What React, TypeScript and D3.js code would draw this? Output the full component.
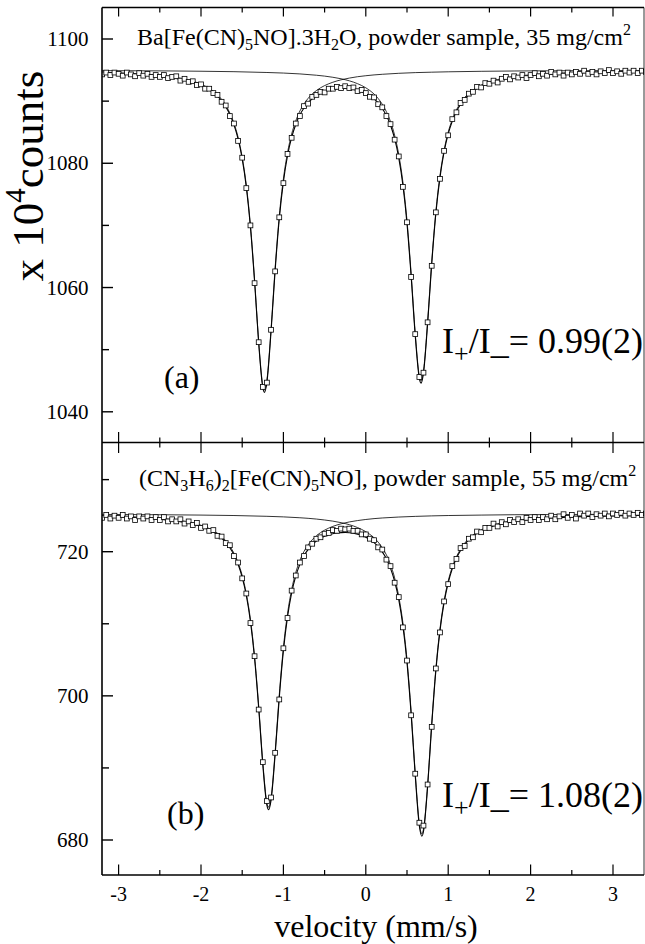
import React from 'react';
import * as d3 from 'd3';

// channel velocities (mm/s), shared by both spectra
const velocity = [
  -3.2, -3.15, -3.1, -3.05, -3, -2.95, -2.9, -2.85, -2.8, -2.75,
  -2.7, -2.65, -2.6, -2.55, -2.5, -2.45, -2.4, -2.35, -2.3, -2.25,
  -2.2, -2.15, -2.1, -2.05, -2, -1.95, -1.9, -1.85, -1.8, -1.75,
  -1.7, -1.65, -1.6, -1.55, -1.5, -1.45, -1.4, -1.35, -1.3, -1.25,
  -1.2, -1.15, -1.1, -1.05, -1, -0.95, -0.9, -0.85, -0.8, -0.75,
  -0.7, -0.65, -0.6, -0.55, -0.5, -0.45, -0.4, -0.35, -0.3, -0.25,
  -0.2, -0.15, -0.1, -0.05, 0, 0.05, 0.1, 0.15, 0.2, 0.25,
  0.3, 0.35, 0.4, 0.45, 0.5, 0.55, 0.6, 0.65, 0.7, 0.75,
  0.8, 0.85, 0.9, 0.95, 1, 1.05, 1.1, 1.15, 1.2, 1.25,
  1.3, 1.35, 1.4, 1.45, 1.5, 1.55, 1.6, 1.65, 1.7, 1.75,
  1.8, 1.85, 1.9, 1.95, 2, 2.05, 2.1, 2.15, 2.2, 2.25,
  2.3, 2.35, 2.4, 2.45, 2.5, 2.55, 2.6, 2.65, 2.7, 2.75,
  2.8, 2.85, 2.9, 2.95, 3, 3.05, 3.1, 3.15, 3.2, 3.25,
  3.3, 3.35, 3.4,
];

// (a) Ba[Fe(CN)5NO].3H2O  (x 10^4 counts)
const countsA = [
  1094.3, 1094.6, 1094.2, 1094.6, 1094.4, 1094.1, 1094.6, 1094.3, 1094.0, 1094.5,
  1094.1, 1094.4, 1093.9, 1094.2, 1093.9, 1094.2, 1093.7, 1093.9, 1094.0, 1093.3,
  1093.6, 1093.1, 1093.2, 1092.6, 1092.7, 1092.0, 1092.0, 1091.3, 1091.0, 1089.9,
  1089.3, 1087.6, 1086.4, 1083.6, 1080.9, 1076.0, 1070.0, 1060.7, 1051.2, 1044.0,
  1044.7, 1053.2, 1062.6, 1071.3, 1076.8, 1081.5, 1084.1, 1086.4, 1087.6, 1089.2,
  1089.6, 1090.7, 1091.0, 1091.5, 1091.4, 1092.0, 1092.0, 1092.3, 1092.1, 1092.4,
  1092.1, 1092.2, 1091.6, 1091.8, 1091.3, 1090.7, 1090.6, 1089.5, 1089.0, 1087.6,
  1086.3, 1083.8, 1081.1, 1076.2, 1070.5, 1061.7, 1052.5, 1045.6, 1046.3, 1054.4,
  1063.5, 1072.1, 1077.5, 1082.0, 1084.5, 1087.1, 1088.2, 1089.7, 1090.2, 1091.2,
  1091.5, 1092.3, 1092.2, 1092.9, 1092.8, 1093.3, 1093.0, 1093.6, 1093.9, 1093.5,
  1094.0, 1093.8, 1094.2, 1093.7, 1094.2, 1094.5, 1094.0, 1094.4, 1094.1, 1094.7,
  1094.3, 1094.6, 1094.1, 1094.6, 1094.3, 1094.7, 1094.4, 1094.9, 1094.4, 1094.7,
  1094.3, 1094.8, 1094.5, 1095.0, 1094.5, 1094.8, 1094.4, 1094.9, 1094.6, 1094.9,
  1094.5, 1094.9, 1094.7,
];
const fitA = [
  1094.55, 1094.53, 1094.51, 1094.48, 1094.46, 1094.43, 1094.40, 1094.36, 1094.33, 1094.29,
  1094.24, 1094.19, 1094.14, 1094.08, 1094.01, 1093.94, 1093.85, 1093.76, 1093.65, 1093.53,
  1093.39, 1093.23, 1093.04, 1092.81, 1092.55, 1092.23, 1091.85, 1091.38, 1090.80, 1090.06,
  1089.09, 1087.85, 1086.19, 1083.91, 1080.71, 1076.16, 1069.71, 1061.00, 1051.03, 1043.89,
  1044.76, 1052.88, 1062.79, 1071.08, 1077.01, 1081.21, 1084.15, 1086.24, 1087.79, 1088.89,
  1089.74, 1090.38, 1090.87, 1091.24, 1091.53, 1091.74, 1091.88, 1091.98, 1092.03, 1092.03,
  1091.98, 1091.88, 1091.73, 1091.52, 1091.24, 1090.85, 1090.36, 1089.71, 1088.82, 1087.67,
  1086.11, 1083.95, 1080.88, 1076.51, 1070.29, 1061.86, 1052.24, 1045.33, 1046.23, 1054.15,
  1063.81, 1071.88, 1077.69, 1081.81, 1084.72, 1086.78, 1088.34, 1089.45, 1090.35, 1091.03,
  1091.58, 1092.01, 1092.37, 1092.67, 1092.91, 1093.12, 1093.30, 1093.46, 1093.59, 1093.70,
  1093.81, 1093.90, 1093.97, 1094.04, 1094.11, 1094.17, 1094.22, 1094.26, 1094.31, 1094.35,
  1094.38, 1094.41, 1094.44, 1094.47, 1094.50, 1094.52, 1094.54, 1094.56, 1094.58, 1094.60,
  1094.62, 1094.63, 1094.65, 1094.66, 1094.67, 1094.69, 1094.70, 1094.71, 1094.72, 1094.73,
  1094.74, 1094.75, 1094.75,
];
const fitTipsA: [number, number][] = [[-1.23, 1043.13], [0.67, 1044.61]];
const subA1: [number, number][] = [
  [-3.2, 1094.64], [-3, 1094.56], [-2.8, 1094.44], [-2.6, 1094.26], [-2.4, 1094.0],
  [-2.2, 1093.55], [-2.1, 1093.21], [-2, 1092.74], [-1.95, 1092.43], [-1.9, 1092.06],
  [-1.85, 1091.6], [-1.8, 1091.02], [-1.75, 1090.29], [-1.7, 1089.34], [-1.65, 1088.1],
  [-1.6, 1086.45], [-1.55, 1084.19], [-1.5, 1080.99], [-1.45, 1076.46], [-1.4, 1070.02],
  [-1.35, 1061.32], [-1.3, 1051.38], [-1.25, 1044.25], [-1.23, 1043.5], [-1.2, 1045.15],
  [-1.15, 1053.28], [-1.1, 1063.22], [-1.05, 1071.52], [-1, 1077.49], [-0.95, 1081.71],
  [-0.9, 1084.7], [-0.85, 1086.81], [-0.8, 1088.41], [-0.75, 1089.54], [-0.7, 1090.45],
  [-0.65, 1091.15], [-0.6, 1091.7], [-0.55, 1092.14], [-0.5, 1092.5], [-0.4, 1093.04],
  [-0.3, 1093.43], [-0.2, 1093.71], [-0.1, 1093.93], [0, 1094.09], [0.1, 1094.22],
  [0.2, 1094.32], [0.4, 1094.48], [0.6, 1094.59], [0.8, 1094.66], [1, 1094.72],
  [1.4, 1094.8], [1.8, 1094.85], [2.2, 1094.88], [2.6, 1094.91], [3, 1094.92], [3.4, 1094.94],
];
const subA2: [number, number][] = [
  [-3.2, 1094.91], [-2.8, 1094.89], [-2.4, 1094.86], [-2, 1094.81], [-1.6, 1094.74],
  [-1.2, 1094.61], [-1, 1094.52], [-0.8, 1094.38], [-0.6, 1094.17], [-0.5, 1094.03],
  [-0.4, 1093.84], [-0.3, 1093.6], [-0.2, 1093.27], [-0.1, 1092.81], [-0.05, 1092.51],
  [0, 1092.15], [0.05, 1091.7], [0.1, 1091.14], [0.15, 1090.43], [0.2, 1089.5],
  [0.25, 1088.3], [0.3, 1086.7], [0.35, 1084.5], [0.4, 1081.4], [0.45, 1077.0],
  [0.5, 1070.75], [0.55, 1062.3], [0.6, 1052.65], [0.65, 1045.72], [0.67, 1045.0],
  [0.7, 1046.6], [0.75, 1054.5], [0.8, 1064.15], [0.85, 1072.2], [0.9, 1078.0],
  [0.95, 1082.1], [1, 1085.0], [1.05, 1087.05], [1.1, 1088.6], [1.15, 1089.7],
  [1.2, 1090.59], [1.25, 1091.26], [1.3, 1091.8], [1.4, 1092.57], [1.5, 1093.1],
  [1.6, 1093.48], [1.7, 1093.75], [1.8, 1093.96], [2, 1094.24], [2.2, 1094.43],
  [2.4, 1094.55], [2.6, 1094.64], [2.8, 1094.7], [3, 1094.75], [3.4, 1094.82],
];

// (b) (CN3H6)2[Fe(CN)5NO]
const countsB = [
  724.7, 725.1, 724.6, 725.0, 724.7, 725.1, 724.6, 724.9, 724.4, 724.9,
  724.6, 724.9, 724.4, 724.8, 724.4, 724.8, 724.2, 724.5, 724.2, 724.5,
  723.9, 724.2, 723.7, 724.0, 723.3, 723.5, 722.9, 723.0, 722.2, 722.1,
  721.2, 720.9, 719.4, 718.5, 716.3, 714.2, 710.1, 705.5, 698.1, 690.8,
  685.4, 685.9, 692.1, 699.5, 706.6, 710.8, 714.6, 716.7, 718.5, 719.4,
  720.6, 721.1, 721.8, 722.0, 722.5, 722.6, 723.0, 722.9, 723.2, 723.1,
  723.2, 722.9, 722.9, 722.4, 722.4, 721.8, 721.6, 720.6, 720.3, 718.9,
  718.0, 715.7, 713.7, 709.5, 704.9, 697.3, 689.2, 682.4, 682.0, 687.7,
  695.7, 703.8, 708.8, 713.1, 715.5, 718.0, 719.0, 720.5, 720.8, 721.8,
  722.0, 722.8, 722.7, 723.3, 723.3, 723.9, 723.5, 724.1, 723.8, 724.4,
  724.1, 724.5, 724.1, 724.7, 724.4, 724.8, 724.4, 724.8, 724.5, 725.0,
  724.5, 724.9, 725.2, 724.7, 725.1, 724.6, 725.3, 725.0, 725.3, 724.8,
  725.2, 725.0, 725.3, 724.9, 725.3, 725.1, 725.4, 725.0, 725.3, 725.1,
  725.4, 725.1, 725.3,
];
const fitB = [
  724.90, 724.88, 724.87, 724.85, 724.83, 724.81, 724.79, 724.76, 724.73, 724.70,
  724.67, 724.64, 724.60, 724.55, 724.51, 724.45, 724.39, 724.33, 724.25, 724.17,
  724.07, 723.96, 723.83, 723.68, 723.50, 723.29, 723.04, 722.74, 722.37, 721.90,
  721.32, 720.55, 719.57, 718.25, 716.45, 713.92, 710.32, 705.22, 698.32, 690.46,
  684.80, 685.49, 691.90, 699.74, 706.27, 710.96, 714.27, 716.60, 718.24, 719.46,
  720.31, 720.98, 721.48, 721.86, 722.14, 722.35, 722.50, 722.59, 722.65, 722.66,
  722.63, 722.55, 722.42, 722.24, 722.00, 721.69, 721.26, 720.71, 719.97, 719.03,
  717.69, 715.90, 713.35, 709.74, 704.61, 697.49, 688.94, 681.94, 681.18, 687.35,
  695.93, 703.45, 709.02, 712.93, 715.69, 717.66, 719.09, 720.16, 721.00, 721.63,
  722.14, 722.54, 722.87, 723.14, 723.37, 723.56, 723.73, 723.86, 723.99, 724.09,
  724.18, 724.27, 724.34, 724.40, 724.46, 724.51, 724.56, 724.60, 724.64, 724.67,
  724.70, 724.73, 724.76, 724.78, 724.81, 724.83, 724.85, 724.87, 724.88, 724.90,
  724.91, 724.93, 724.94, 724.95, 724.96, 724.97, 724.99, 724.99, 725.00, 725.01,
  725.02, 725.03, 725.03,
];
const fitTipsB: [number, number][] = [[-1.18, 684.2], [0.68, 680.53]];
const subB1: [number, number][] = [
  [-3.2, 724.98], [-3, 724.92], [-2.8, 724.83], [-2.6, 724.71], [-2.4, 724.52],
  [-2.2, 724.21], [-2.1, 723.98], [-2, 723.67], [-1.95, 723.46], [-1.9, 723.22],
  [-1.85, 722.93], [-1.8, 722.56], [-1.75, 722.1], [-1.7, 721.53], [-1.65, 720.77],
  [-1.6, 719.8], [-1.55, 718.49], [-1.5, 716.7], [-1.45, 714.18], [-1.4, 710.6],
  [-1.35, 705.51], [-1.3, 698.63], [-1.25, 690.78], [-1.2, 685.14], [-1.18, 684.55],
  [-1.15, 685.85], [-1.1, 692.28], [-1.05, 700.14], [-1, 706.69], [-0.95, 711.41],
  [-0.9, 714.75], [-0.85, 717.11], [-0.8, 718.78], [-0.75, 720.04], [-0.7, 720.94],
  [-0.65, 721.66], [-0.6, 722.21], [-0.55, 722.64], [-0.5, 722.99], [-0.4, 723.51],
  [-0.3, 723.87], [-0.2, 724.13], [-0.1, 724.32], [0, 724.47], [0.1, 724.59],
  [0.2, 724.68], [0.4, 724.81], [0.6, 724.9], [0.8, 724.97], [1, 725.02],
  [1.4, 725.08], [1.8, 725.13], [2.2, 725.15], [2.6, 725.17], [3, 725.19], [3.4, 725.2],
];
const subB2: [number, number][] = [
  [-3.2, 725.17], [-2.8, 725.15], [-2.4, 725.12], [-2, 725.08], [-1.6, 725.02],
  [-1.2, 724.91], [-1, 724.83], [-0.8, 724.71], [-0.6, 724.53], [-0.5, 724.4],
  [-0.4, 724.24], [-0.3, 724.03], [-0.2, 723.75], [-0.1, 723.35], [-0.05, 723.09],
  [0, 722.78], [0.05, 722.4], [0.1, 721.93], [0.15, 721.33], [0.2, 720.54],
  [0.25, 719.57], [0.3, 718.19], [0.35, 716.37], [0.4, 713.79], [0.45, 710.15],
  [0.5, 705.0], [0.55, 697.86], [0.6, 689.29], [0.65, 682.27], [0.68, 680.85],
  [0.7, 681.49], [0.75, 687.64], [0.8, 696.21], [0.85, 703.72], [0.9, 709.27],
  [0.95, 713.17], [1, 715.93], [1.05, 717.88], [1.1, 719.3], [1.15, 720.37],
  [1.2, 721.19], [1.25, 721.82], [1.3, 722.32], [1.4, 723.03], [1.5, 723.52],
  [1.6, 723.87], [1.7, 724.12], [1.8, 724.31], [2, 724.57], [2.2, 724.73],
  [2.4, 724.85], [2.6, 724.93], [2.8, 724.98], [3, 725.03], [3.4, 725.09],
];

const xTicks = [-3, -2, -1, 0, 1, 2, 3];
const xMinor = [-2.5, -1.5, -0.5, 0.5, 1.5, 2.5];
const yTicksA = [1040, 1060, 1080, 1100];
const yMinorA = [1050, 1070, 1090];
const yTicksB = [680, 700, 720];
const yMinorB = [690, 710, 730];

const W = 645;
const H = 944;
const left = 102;
const right = 644;
const top = 7.5;
const mid = 442.5;
const bottom = 875;
const font = '"Liberation Serif", "DejaVu Serif", "Times New Roman", serif';

const x = d3.scaleLinear().domain([-3, 3]).range([118.6, 613]);
const yA = d3.scaleLinear().domain([1040, 1100]).range([411.8, 39]);
const yB = d3.scaleLinear().domain([680, 720]).range([840, 551.7]);

function withTips(vals: number[], tips: [number, number][]) {
  const pts: [number, number][] = velocity.map((v, i) => [v, vals[i]]);
  return pts.concat(tips).sort((a, b) => a[0] - b[0]);
}

function Panel({ y, counts, fit, tips, sub1, sub2, clip }: any) {
  const line = d3
    .line<[number, number]>()
    .x(d => x(d[0]))
    .y(d => y(d[1]))
    .curve(d3.curveMonotoneX);
  return (
    <g clipPath={`url(#${clip})`}>
      <path d={line(sub1) || ''} fill="none" stroke="#000" strokeWidth={0.8} />
      <path d={line(sub2) || ''} fill="none" stroke="#000" strokeWidth={0.8} />
      <path d={line(withTips(fit, tips)) || ''} fill="none" stroke="#000" strokeWidth={1.1} />
      {velocity.map((v, i) => (
        <rect
          key={i}
          x={x(v) - 2.4}
          y={y(counts[i]) - 2.4}
          width={4.8}
          height={4.8}
          fill="#fff"
          stroke="#000"
          strokeWidth={0.8}
        />
      ))}
    </g>
  );
}

export default function App() {
  const sub = 16;
  return (
    <svg
      width={W}
      height={H}
      style={{ position: 'absolute', left: 0, top: 0, background: '#fff' }}
      fontFamily={font}
    >
      <defs>
        <clipPath id="clipA">
          <rect x={left} y={top} width={right - left} height={mid - top} />
        </clipPath>
        <clipPath id="clipB">
          <rect x={left} y={mid} width={right - left} height={bottom - mid} />
        </clipPath>
      </defs>

      <Panel y={yA} counts={countsA} fit={fitA} tips={fitTipsA} sub1={subA1} sub2={subA2} clip="clipA" />
      <Panel y={yB} counts={countsB} fit={fitB} tips={fitTipsB} sub1={subB1} sub2={subB2} clip="clipB" />

      {/* frame */}
      <g stroke="#000" fill="none">
        <line x1={left} x2={left} y1={top} y2={bottom} strokeWidth={1.6} />
        <line x1={right} x2={right} y1={top} y2={bottom} strokeWidth={0.8} />
        <line x1={left} x2={right} y1={top} y2={top} strokeWidth={1.3} />
        <line x1={left} x2={right} y1={mid} y2={mid} strokeWidth={1.4} />
        <line x1={left} x2={right} y1={bottom} y2={bottom} strokeWidth={1.6} />
      </g>

      {/* x ticks: top (down), middle (both ways), bottom (up) */}
      <g stroke="#000" strokeWidth={1.2}>
        {xTicks.map(t => (
          <g key={t}>
            <line x1={x(t)} x2={x(t)} y1={top} y2={top + 9} />
            <line x1={x(t)} x2={x(t)} y1={mid - 10.5} y2={mid + 10.5} />
            <line x1={x(t)} x2={x(t)} y1={bottom} y2={bottom - 10.5} />
          </g>
        ))}
        {xMinor.map(t => (
          <g key={t}>
            <line x1={x(t)} x2={x(t)} y1={top} y2={top + 5} />
            <line x1={x(t)} x2={x(t)} y1={mid - 5} y2={mid + 5} />
            <line x1={x(t)} x2={x(t)} y1={bottom} y2={bottom - 5} />
          </g>
        ))}
      </g>
      <g fontSize={20} textAnchor="middle">
        {xTicks.map(t => (
          <text key={t} x={x(t)} y={901}>
            {t < 0 ? `-${Math.abs(t)}` : t}
          </text>
        ))}
      </g>

      {/* y ticks */}
      <g stroke="#000" strokeWidth={1.4}>
        {yTicksA.map(t => (
          <line key={t} x1={left} x2={left + 11} y1={yA(t)} y2={yA(t)} />
        ))}
        {yMinorA.map(t => (
          <line key={t} x1={left} x2={left + 7} y1={yA(t)} y2={yA(t)} />
        ))}
        {yTicksB.map(t => (
          <line key={t} x1={left} x2={left + 11} y1={yB(t)} y2={yB(t)} />
        ))}
        {yMinorB.map(t => (
          <line key={t} x1={left} x2={left + 7} y1={yB(t)} y2={yB(t)} />
        ))}
      </g>
      <g fontSize={21} textAnchor="end">
        {yTicksA.map(t => (
          <text key={t} x={88.5} y={yA(t) + 7}>
            {t}
          </text>
        ))}
        {yTicksB.map(t => (
          <text key={t} x={88.5} y={yB(t) + 7}>
            {t}
          </text>
        ))}
      </g>

      {/* axis titles */}
      <text x={376} y={937} fontSize={32} textAnchor="middle">
        velocity (mm/s)
      </text>
      <text transform="translate(43,176) rotate(-90)" fontSize={45} textAnchor="middle">
        x 10<tspan dy={-18} fontSize={29}>4</tspan>
        <tspan dy={18}>counts</tspan>
      </text>

      {/* panel headers */}
      <text x={137} y={45} fontSize={24}>
        Ba[Fe(CN)<tspan dy={5} fontSize={sub}>5</tspan>
        <tspan dy={-5}>NO].3H</tspan>
        <tspan dy={5} fontSize={sub}>2</tspan>
        <tspan dy={-5}>O, powder sample, 35 mg/cm</tspan>
        <tspan dy={-10} fontSize={sub}>2</tspan>
      </text>
      <text x={139} y={486} fontSize={24}>
        (CN<tspan dy={5} fontSize={sub}>3</tspan>
        <tspan dy={-5}>H</tspan>
        <tspan dy={5} fontSize={sub}>6</tspan>
        <tspan dy={-5}>)</tspan>
        <tspan dy={5} fontSize={sub}>2</tspan>
        <tspan dy={-5}>[Fe(CN)</tspan>
        <tspan dy={5} fontSize={sub}>5</tspan>
        <tspan dy={-5}>NO], powder sample, 55 mg/cm</tspan>
        <tspan dy={-10} fontSize={sub}>2</tspan>
      </text>

      {/* ratio labels */}
      <text x={442} y={353} fontSize={36}>
        I<tspan dy={9} fontSize={26}>+</tspan>
        <tspan dy={-9}>/I_= 0.99(2)</tspan>
      </text>
      <text x={442} y={807} fontSize={36}>
        I<tspan dy={9} fontSize={26}>+</tspan>
        <tspan dy={-9}>/I_= 1.08(2)</tspan>
      </text>

      <text x={164} y={388} fontSize={32}>
        (a)
      </text>
      <text x={167} y={824} fontSize={32}>
        (b)
      </text>
    </svg>
  );
}
